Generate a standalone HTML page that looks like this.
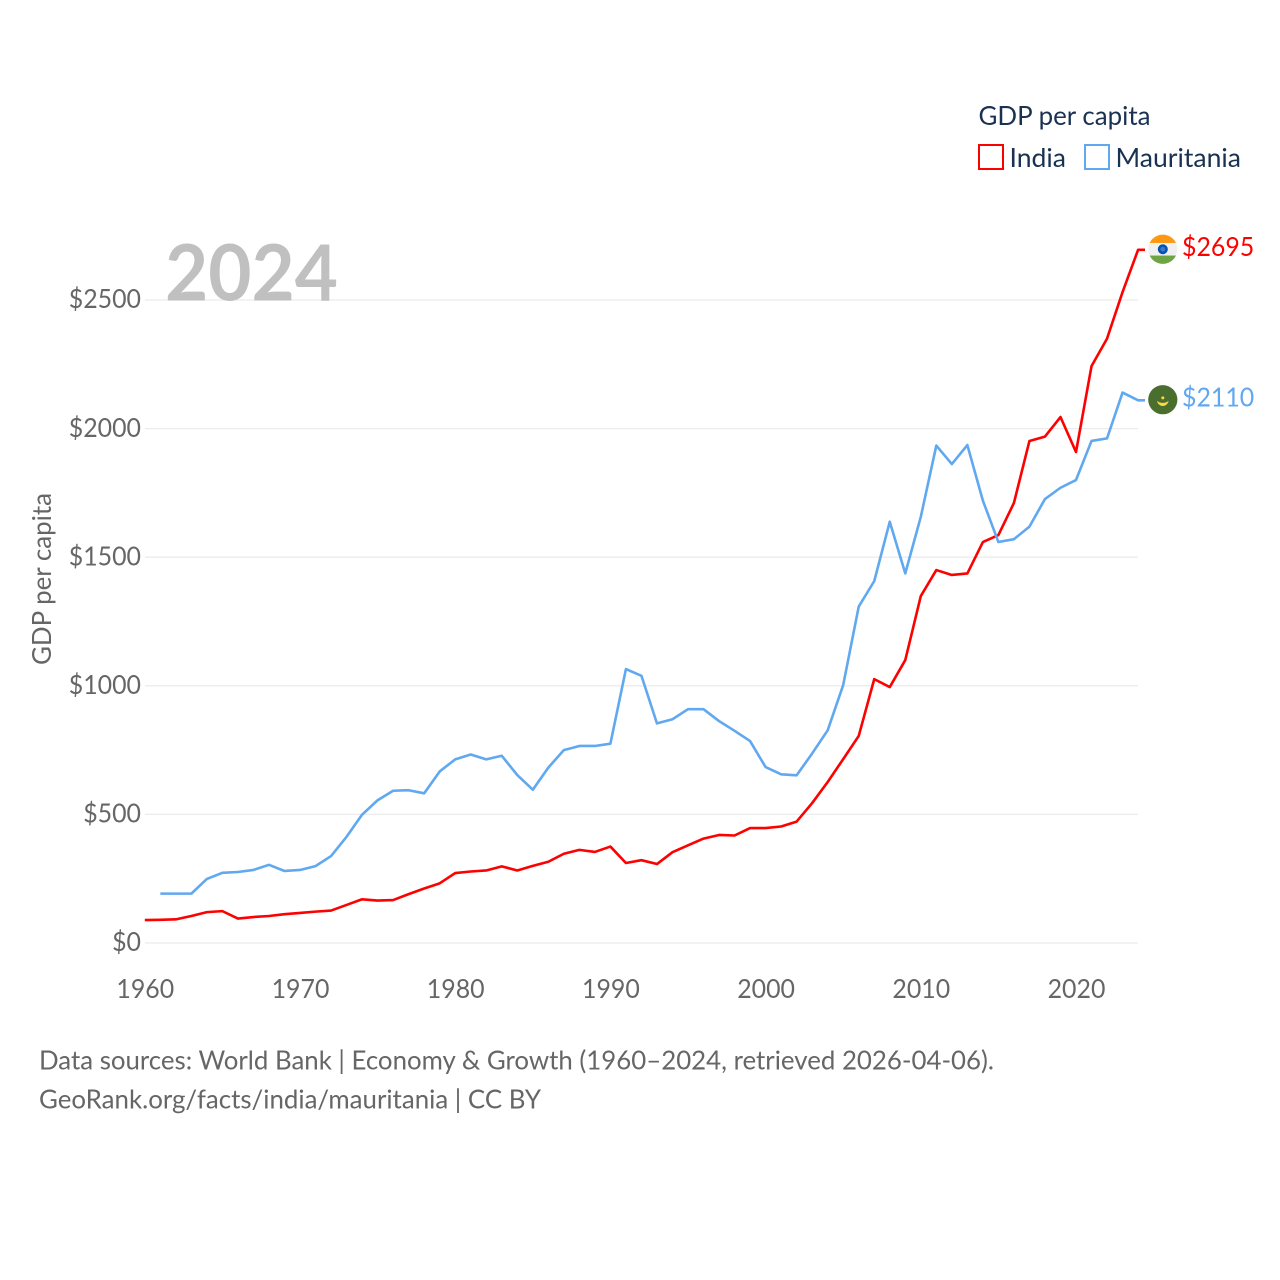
<!DOCTYPE html>
<html lang="en">
<head>
<meta charset="utf-8">
<title>GDP per capita: India and Mauritania</title>
<style>
html,body{margin:0;padding:0;background:#fff;}
svg{display:block;font-family:"Lato","Carlito","Liberation Sans",sans-serif;}
</style>
</head>
<body>
<svg id="chart" xmlns="http://www.w3.org/2000/svg" width="1280" height="1280" viewBox="0 0 1280 1280">
  <defs>
    <clipPath id="flag-clip"><circle cx="0" cy="0" r="14.6"></circle></clipPath>
  </defs>
  <rect x="0" y="0" width="1280" height="1280" fill="#ffffff"></rect>

  <g id="grid"></g>
  <text x="165" y="300.5" font-size="78" font-weight="700" fill="#c0c0c0" textLength="173" lengthAdjust="spacingAndGlyphs">2024</text>
  <g id="y-axis"></g>
  <g id="x-axis"></g>
  <g id="series"></g>
  <g id="ends"></g>

  <text transform="translate(51,579) rotate(-90)" text-anchor="middle" font-size="26.5" fill="#666666" textLength="172" lengthAdjust="spacingAndGlyphs">GDP per capita</text>

  <g>
    <text x="978.5" y="125" font-size="26.5" fill="#1a3252" textLength="172" lengthAdjust="spacingAndGlyphs">GDP per capita</text>
    <rect x="979" y="145" width="24" height="24" fill="none" stroke="#ff0000" stroke-width="2"></rect>
    <text x="1009.5" y="167" font-size="26.5" fill="#1a3252" textLength="56.5" lengthAdjust="spacingAndGlyphs">India</text>
    <rect x="1085" y="145" width="24" height="24" fill="none" stroke="#60a8f0" stroke-width="2"></rect>
    <text x="1115.5" y="167" font-size="26.5" fill="#1a3252" textLength="125.5" lengthAdjust="spacingAndGlyphs">Mauritania</text>
  </g>

  <g>
    <text x="39" y="1069.3" font-size="26.5" fill="#666666" textLength="955" lengthAdjust="spacingAndGlyphs">Data sources: World Bank | Economy &amp; Growth (1960–2024, retrieved 2026-04-06).</text>
    <text x="39" y="1108.7" font-size="26.5" fill="#666666" textLength="502" lengthAdjust="spacingAndGlyphs">GeoRank.org/facts/india/mauritania | CC BY</text>
  </g>
</svg>

<script>
const firstYear = 1960;
const yTicks = [0, 500, 1000, 1500, 2000, 2500];
const yTickLabels = ["$0", "$500", "$1000", "$1500", "$2000", "$2500"];
const xTicks = [1960, 1970, 1980, 1990, 2000, 2010, 2020];
const xTickLabels = ["1960", "1970", "1980", "1990", "2000", "2010", "2020"];
const indiaValues = [
  89, 90, 92, 105, 120, 124, 95, 101, 105, 112,
  117, 122, 126, 148, 170, 165, 167, 190, 212, 232,
  272, 278, 282, 298, 282, 300, 316, 347, 362, 354,
  375, 311, 322, 307, 353, 380, 406, 420, 418, 447,
  447, 453, 472, 544, 626, 715, 805, 1026, 995, 1100,
  1349, 1450, 1431, 1437, 1559, 1586, 1711, 1952, 1969, 2045,
  1909, 2243, 2350, 2531, 2695
];
const mauritaniaValues = [
  null, 192, 192, 192, 249, 273, 276, 284, 304, 280,
  284, 299, 338, 413, 499, 555, 592, 594, 582, 667,
  714, 733, 714, 728, 653, 596, 682, 750, 766, 766,
  775, 1065, 1039, 854, 870, 909, 909, 863, 825, 785,
  684, 656, 652, 737, 827, 1003, 1308, 1407, 1638, 1437,
  1657, 1934, 1862, 1936, 1720, 1559, 1570, 1619, 1726, 1770,
  1800, 1952, 1962, 2140, 2110
];
const indiaLabel = "$2695";
const mauritaniaLabel = "$2110";

const NS = "http://www.w3.org/2000/svg";
const plotLeft = 144.8, yearStep = 15.52, plotRight = 1138;
const zeroY = 943, pxPerUnit = 0.2572, stubEnd = 1145;
const charW = 14.45;

function xScale(year) { return plotLeft + (year - firstYear) * yearStep; }
function yScale(v) { return zeroY - v * pxPerUnit; }
function make(tag, parent, attrs, text) {
  const el = document.createElementNS(NS, tag);
  Object.keys(attrs).forEach(function (k) { el.setAttribute(k, attrs[k]); });
  if (text !== undefined) el.textContent = text;
  parent.appendChild(el);
  return el;
}

const grid = document.getElementById("grid");
const yAxis = document.getElementById("y-axis");
yTicks.forEach(function (t, i) {
  const line = make("line", grid, { x1: 145, x2: plotRight, y1: yScale(t), y2: yScale(t), stroke: "#ececec", "stroke-width": 1.3 });
  
  
  const lab = make("text", yAxis, {
    x: 141, y: yScale(t) + 8.2, "text-anchor": "end", "font-size": 26.5, fill: "#666666",
    textLength: yTickLabels[i].length * charW, lengthAdjust: "spacingAndGlyphs"
  }, yTickLabels[i]);
  
  
});

const xAxis = document.getElementById("x-axis");
xTicks.forEach(function (t, i) {
  const lab = make("text", xAxis, {
    x: xScale(t) + 0.5, y: 998, "text-anchor": "middle", "font-size": 26.5, fill: "#666666",
    textLength: xTickLabels[i].length * charW, lengthAdjust: "spacingAndGlyphs"
  }, xTickLabels[i]);
  
  
});

function pathFor(values) {
  const pts = [];
  let last = null;
  values.forEach(function (v, i) {
    if (v === null) return;
    last = v;
    pts.push(xScale(firstYear + i).toFixed(2) + "," + yScale(v).toFixed(2));
  });
  pts.push(stubEnd + "," + yScale(last).toFixed(2));
  return "M" + pts.join("L");
}

const seriesGroup = document.getElementById("series");
const indiaLine = make("path", seriesGroup, { d: pathFor(indiaValues), fill: "none", stroke: "#ff0000", "stroke-width": 2.6, "stroke-linejoin": "round" });


const mauritaniaLine = make("path", seriesGroup, { d: pathFor(mauritaniaValues), fill: "none", stroke: "#60a8f0", "stroke-width": 2.6, "stroke-linejoin": "round" });



const ends = document.getElementById("ends");
const flagX = 1162.8;

// India flag and value
const indiaY = yScale(indiaValues[indiaValues.length - 1]);
const indiaFlag = make("g", ends, { transform: "translate(" + flagX + "," + (indiaY - 0.6) + ")", "clip-path": "url(#flag-clip)" });


make("rect", indiaFlag, { x: -15, y: -15, width: 30, height: 30, fill: "#f0f0f0" });
make("rect", indiaFlag, { x: -15, y: -15, width: 30, height: 8.7, fill: "#ff9811" });
make("rect", indiaFlag, { x: -15, y: 6.3, width: 30, height: 8.7, fill: "#6da544" });
make("circle", indiaFlag, { cx: 0, cy: 0, r: 5, fill: "#0052b4" });
make("circle", indiaFlag, { cx: 0, cy: 0, r: 2.4, fill: "#3d78c9" });
const indiaValue = make("text", ends, {
  x: 1182, y: indiaY + 6, "font-size": 26.5, fill: "#ff0000",
  textLength: indiaLabel.length * charW, lengthAdjust: "spacingAndGlyphs"
}, indiaLabel);



// Mauritania flag and value
const mauritaniaY = yScale(mauritaniaValues[mauritaniaValues.length - 1]);
const mauritaniaFlag = make("g", ends, { transform: "translate(" + flagX + "," + (mauritaniaY - 0.6) + ")", "clip-path": "url(#flag-clip)" });


make("rect", mauritaniaFlag, { x: -15, y: -15, width: 30, height: 30, fill: "#496e2d" });
make("path", mauritaniaFlag, { d: "M-5.5,1.5A5.6,5.6 0 0 0 5.5,1.5A6.6,4.4 0 0 1 -5.5,1.5Z", fill: "#ffda44", stroke: "#ffda44", "stroke-width": 0.5 });
make("circle", mauritaniaFlag, { cx: 0, cy: -1.8, r: 1.5, fill: "#ffda44" });
const mauritaniaValue = make("text", ends, {
  x: 1182, y: mauritaniaY + 6, "font-size": 26.5, fill: "#60a8f0",
  textLength: mauritaniaLabel.length * charW, lengthAdjust: "spacingAndGlyphs"
}, mauritaniaLabel);


</script>
</body>
</html>
